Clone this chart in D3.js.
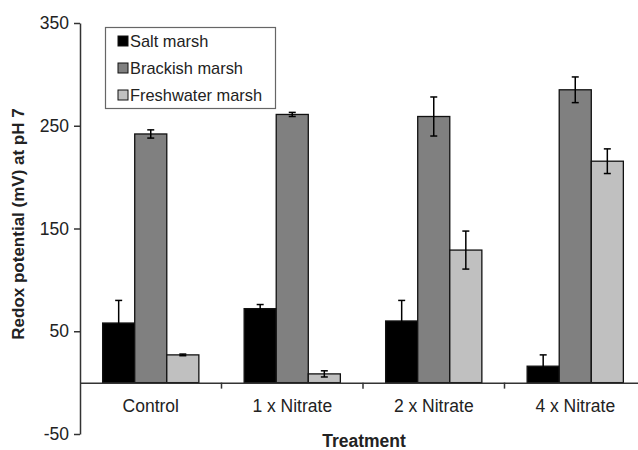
<!DOCTYPE html>
<html>
<head>
<meta charset="utf-8">
<script src="https://cdn.jsdelivr.net/npm/d3@7"></script>
<style>
  body { margin: 0; background: #fff; }
  svg { display: block; font-family: "Liberation Sans", Arial, sans-serif; }
</style>
</head>
<body>
<div id="chart"></div>
<script>
const categories = ["Control", "1 x Nitrate", "2 x Nitrate", "4 x Nitrate"];
const series = ["Salt marsh", "Brackish marsh", "Freshwater marsh"];
const saltValues = [58, 72, 60, 16];
const saltErrors = [22, 4, 20, 11];
const brackishValues = [242, 261, 259, 285];
const brackishErrors = [4, 2, 19, 12.5];
const freshValues = [27, 8.5, 129, 215.5];
const freshErrors = [0.8, 3, 18.5, 12];
const yTicks = [-50, 50, 150, 250, 350];

const colors = ["#000000", "#808080", "#c0c0c0"];
const values = [saltValues, brackishValues, freshValues];
const errors = [saltErrors, brackishErrors, freshErrors];

const width = 638, height = 450;
const margin = { left: 80, right: -8, top: 23, bottom: 16 };

const svg = d3.select("#chart").append("svg")
  .attr("width", width)
  .attr("height", height);

const y = d3.scaleLinear()
  .domain([-50, 350])
  .range([height - margin.bottom, margin.top]);

const x0 = d3.scaleBand()
  .domain(categories)
  .range([margin.left, width - margin.right]);

const bw = x0.bandwidth();
const x1 = d3.scaleBand()
  .domain(series)
  .range([bw * 0.16, bw * 0.84]);

// flatten data
const rows = [];
categories.forEach((c, i) => {
  series.forEach((s, j) => {
    rows.push({ cat: c, ser: s, v: values[j][i], e: errors[j][i], color: colors[j] });
  });
});

// bars
svg.append("g").selectAll("rect")
  .data(rows)
  .join("rect")
  .attr("x", d => x0(d.cat) + x1(d.ser))
  .attr("width", x1.bandwidth())
  .attr("y", d => y(d.v))
  .attr("height", d => y(0) - y(d.v))
  .attr("fill", d => d.color)
  .attr("stroke", "#111")
  .attr("stroke-width", 1.3);

// error bars (black on the salt bars, so the lower half disappears like in the original)
const eg = svg.append("g").attr("stroke", "#000").attr("stroke-width", 1.5);
rows.forEach(d => {
  const cx = x0(d.cat) + x1(d.ser) + x1.bandwidth() / 2;
  eg.append("line").attr("x1", cx).attr("x2", cx).attr("y1", y(d.v + d.e)).attr("y2", y(d.v - d.e));
  eg.append("line").attr("x1", cx - 3.5).attr("x2", cx + 3.5).attr("y1", y(d.v + d.e)).attr("y2", y(d.v + d.e));
  eg.append("line").attr("x1", cx - 3.5).attr("x2", cx + 3.5).attr("y1", y(d.v - d.e)).attr("y2", y(d.v - d.e));
});

// y axis
const yAxis = svg.append("g")
  .attr("transform", `translate(${margin.left},0)`)
  .call(d3.axisLeft(y).tickValues(yTicks).tickFormat(d => String(d))
    .tickSize(6).tickSizeOuter(0).tickPadding(5));
yAxis.select(".domain").attr("stroke", "#333").attr("stroke-width", 1.5);
yAxis.selectAll(".tick line").attr("stroke", "#333").attr("stroke-width", 1.5);
yAxis.selectAll(".tick text").attr("fill", "#222").style("font-size", "17.5px");

// x axis at zero
const xAxis = svg.append("g")
  .attr("transform", `translate(0,${y(0)})`)
  .call(d3.axisBottom(x0).tickSize(0).tickPadding(17));
xAxis.select(".domain").attr("stroke", "#333").attr("stroke-width", 1.5);
xAxis.selectAll(".tick text").attr("fill", "#222").style("font-size", "17.5px");

// category separators
svg.append("g").selectAll("line")
  .data(categories.slice(1))
  .join("line")
  .attr("x1", d => x0(d)).attr("x2", d => x0(d))
  .attr("y1", y(0)).attr("y2", y(0) + 6)
  .attr("stroke", "#333").attr("stroke-width", 1.5);

// axis titles
svg.append("text")
  .attr("transform", `translate(24,224) rotate(-90)`)
  .attr("text-anchor", "middle")
  .attr("font-weight", "bold")
  .attr("fill", "#222")
  .style("font-size", "17px")
  .text("Redox potential (mV) at pH 7");

svg.append("text")
  .attr("x", 364)
  .attr("y", 447)
  .attr("text-anchor", "middle")
  .attr("font-weight", "bold")
  .attr("fill", "#222")
  .style("font-size", "17.5px")
  .text("Treatment");

// legend
const legend = svg.append("g");
legend.append("rect")
  .attr("x", 105.5).attr("y", 27.5)
  .attr("width", 170).attr("height", 81)
  .attr("fill", "#fff")
  .attr("stroke", "#666")
  .attr("stroke-width", 1.2);

series.forEach((s, j) => {
  const cy = 41 + j * 27;
  legend.append("rect")
    .attr("x", 118).attr("y", cy - 5)
    .attr("width", 10).attr("height", 10)
    .attr("fill", colors[j])
    .attr("stroke", "#111")
    .attr("stroke-width", 1);
  legend.append("text")
    .attr("x", 130).attr("y", cy + 6)
    .attr("fill", "#222")
    .style("font-size", "16.4px")
    .text(s);
});
</script>
</body>
</html>
